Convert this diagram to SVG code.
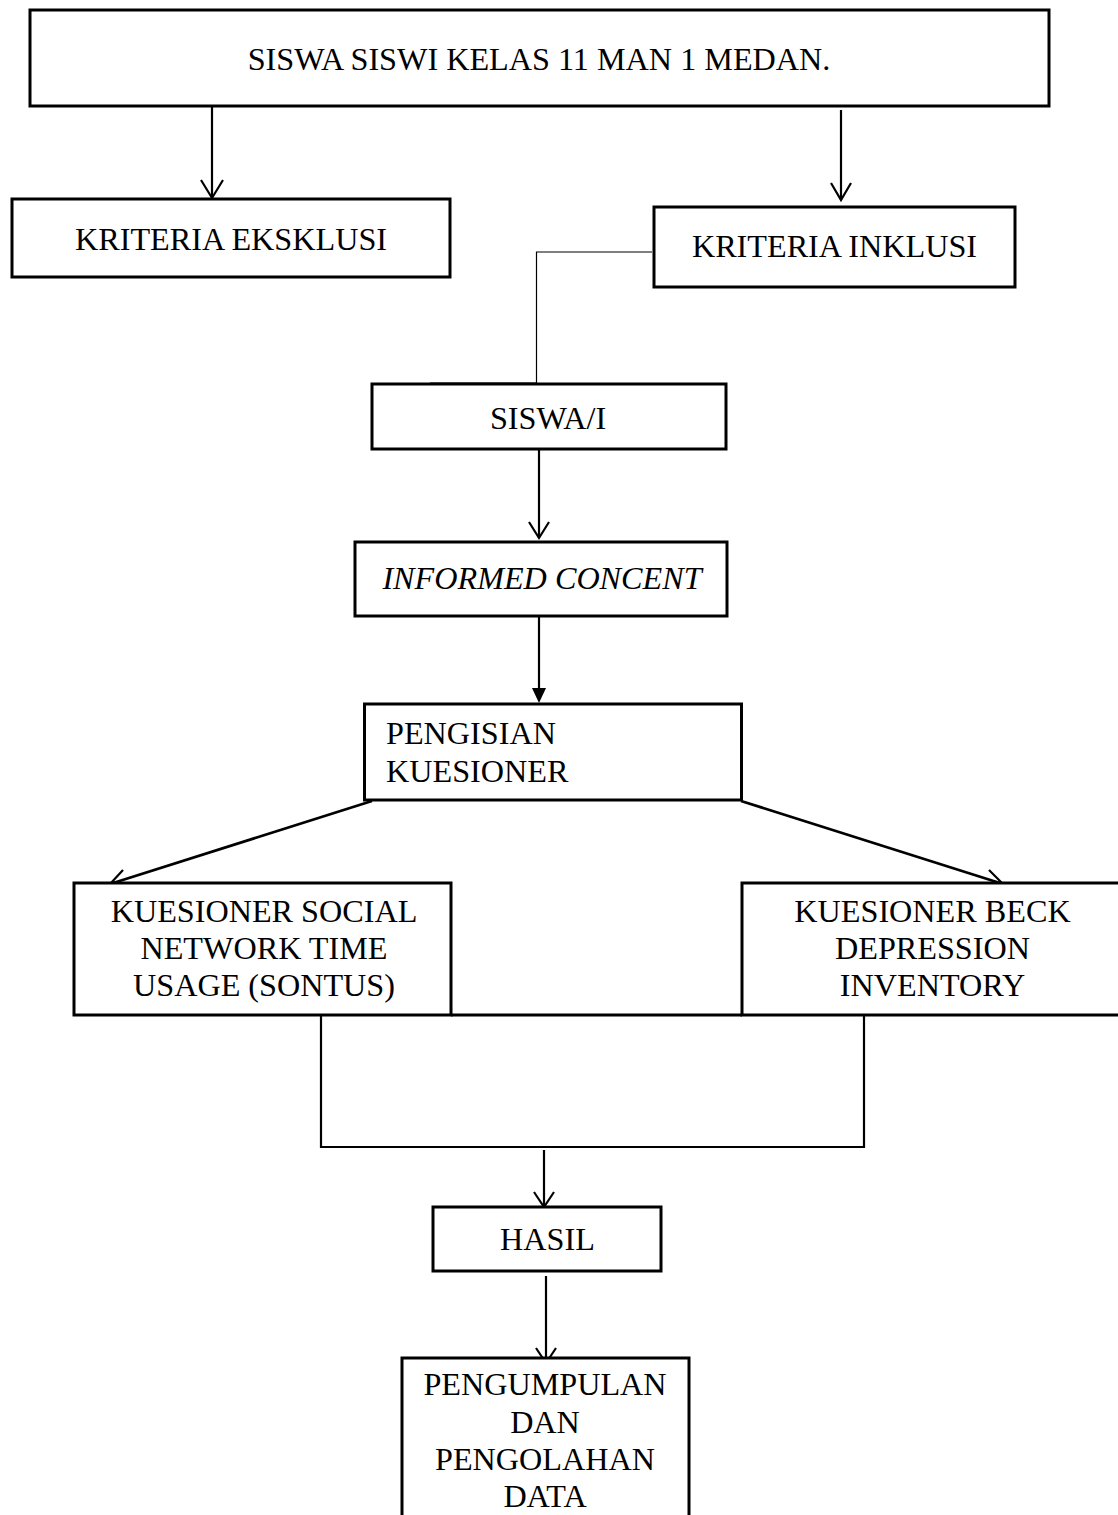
<svg xmlns="http://www.w3.org/2000/svg" width="1118" height="1515" viewBox="0 0 1118 1515">
<style>
  .box { fill: #ffffff; stroke: #000000; stroke-width: 3; }
  .t { font-family: "Liberation Serif", "Times New Roman", serif; font-size: 32.2px; fill: #000000; }
  .c { text-anchor: middle; }
  .conn { fill: none; stroke: #000000; stroke-width: 2.2; }
  .diag { fill: none; stroke: #000000; stroke-width: 2.7; }
  .thin { fill: none; stroke: #000000; stroke-width: 1.2; }
  .head { fill: none; stroke: #000000; stroke-width: 2.2; stroke-linejoin: miter; }
</style>
<rect width="1118" height="1515" fill="#ffffff"/>
<g id="connectors">
  <line class="conn" x1="212" y1="106" x2="212" y2="198"/>
  <polyline class="head" points="201,180 212,198 223,180"/>
  <line class="conn" x1="841" y1="110" x2="841" y2="200"/>
  <polyline class="head" points="831,183 841,200 851,183"/>
  <path class="thin" d="M652,252 H536.5 V383 H430"/>
  <line class="conn" x1="539" y1="449" x2="539" y2="538"/>
  <polyline class="head" points="529,522 539,538 549,522"/>
  <line class="conn" x1="539" y1="615" x2="539" y2="690"/>
  <polygon points="532,688 546,688 539,703" fill="#000000"/>
  <line class="diag" x1="372" y1="801" x2="110" y2="884"/>
  <polyline class="head" points="123,870 110,884 130,888"/>
  <line class="diag" x1="741" y1="801" x2="1003" y2="884"/>
  <polyline class="head" points="989,870 1003,884 983,888"/>
  <line class="box" x1="451" y1="1015" x2="742" y2="1015"/>
  <path class="conn" d="M321,1015 V1147 H864 V1015"/>
  <line class="conn" x1="544" y1="1150" x2="544" y2="1207"/>
  <polyline class="head" points="534,1192 544,1207 554,1192"/>
  <line class="conn" x1="546" y1="1276" x2="546" y2="1363"/>
  <polyline class="head" points="536,1348 546,1363 556,1348"/>
</g>
<g id="node-top">
  <rect class="box" x="30" y="10" width="1019" height="96"/>
  <text class="t c" x="539" y="70">SISWA SISWI KELAS 11 MAN 1 MEDAN.</text>
</g>
<g id="node-eksklusi">
  <rect class="box" x="12" y="199" width="438" height="78"/>
  <text class="t c" x="231" y="250">KRITERIA EKSKLUSI</text>
</g>
<g id="node-inklusi">
  <rect class="box" x="654" y="207" width="361" height="80"/>
  <text class="t c" x="834.5" y="257">KRITERIA INKLUSI</text>
</g>
<g id="node-siswai">
  <rect class="box" x="372" y="384" width="354" height="65"/>
  <text class="t c" x="548" y="429">SISWA/I</text>
</g>
<g id="node-informed">
  <rect class="box" x="355" y="542" width="372" height="74"/>
  <text class="t c" x="542" y="589" font-style="italic">INFORMED CONCENT</text>
</g>
<g id="node-pengisian">
  <rect class="box" x="364.5" y="704" width="377" height="96"/>
  <text class="t" x="386" y="744">PENGISIAN</text>
  <text class="t" x="386" y="782">KUESIONER</text>
</g>
<g id="node-sontus">
  <rect class="box" x="74" y="883" width="377" height="132"/>
  <text class="t c" x="264" y="922">KUESIONER SOCIAL</text>
  <text class="t c" x="264" y="959">NETWORK TIME</text>
  <text class="t c" x="264" y="996">USAGE (SONTUS)</text>
</g>
<g id="node-beck">
  <rect class="box" x="742" y="883" width="390" height="132"/>
  <text class="t c" x="932.5" y="922">KUESIONER BECK</text>
  <text class="t c" x="932.5" y="959">DEPRESSION</text>
  <text class="t c" x="932.5" y="996">INVENTORY</text>
</g>
<g id="node-hasil">
  <rect class="box" x="433" y="1207" width="228" height="64"/>
  <text class="t c" x="547.5" y="1250">HASIL</text>
</g>
<g id="node-pengumpulan">
  <rect class="box" x="402" y="1358" width="287" height="170"/>
  <text class="t c" x="545" y="1395">PENGUMPULAN</text>
  <text class="t c" x="545" y="1433">DAN</text>
  <text class="t c" x="545" y="1470">PENGOLAHAN</text>
  <text class="t c" x="545" y="1507">DATA</text>
</g>
</svg>
